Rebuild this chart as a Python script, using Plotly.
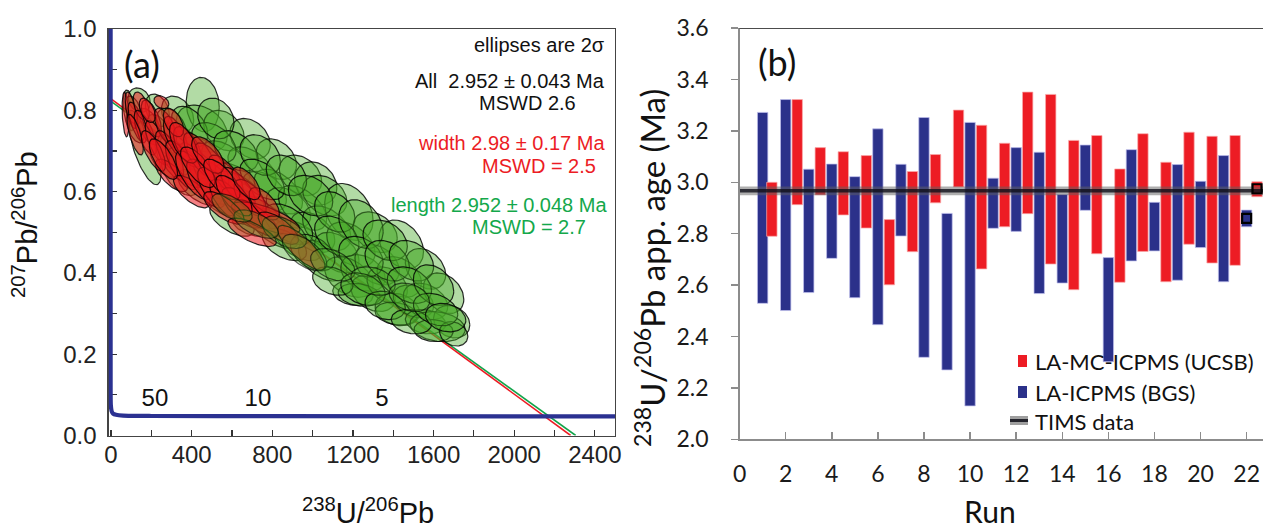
import numpy as np
import plotly.graph_objects as go

W, H = 1263, 530
def px(x): return x / W
def py(y): return 1 - y / H

FA = "Liberation Sans, Arial, sans-serif"
FB = "Lato, Carlito, Calibri, sans-serif"

# ---------------- Panel (a) data ----------------
# Green ellipses ("length" analyses): centre x, centre y, half-extent x, half-extent y, correlation
green_cx = [90, 140, 170, 120, 230, 250, 260, 330, 350, 340,
            455, 450, 460, 440, 400, 560, 570, 550, 620, 690, 700, 680, 700, 760,
            820, 830, 810, 880, 940, 1015, 950, 930, 1000, 1060, 1070, 1050, 1120,
            1180, 1190, 1180, 1200, 1250, 1310, 1320, 1300, 1231, 1370,
            1440, 1430, 1420, 1414, 1500, 1560, 1560, 1560, 1650, 1690, 1620, 1600, 1700,
            110, 190, 300, 310, 390, 380, 510, 500, 520, 620, 640, 600, 740, 750, 740,
            870, 880, 860, 990, 1000, 1110, 1120, 1100, 1240, 1240, 1250, 1360, 1370, 1360,
            1490, 1480, 1490, 1600, 1610, 1660]
green_cy = [0.800, 0.825, 0.700, 0.760, 0.800, 0.740, 0.680, 0.790, 0.720, 0.640,
            0.814, 0.755, 0.680, 0.610, 0.700, 0.750, 0.670, 0.585, 0.620, 0.730, 0.655, 0.560, 0.520, 0.600,
            0.680, 0.600, 0.510, 0.560, 0.640, 0.620, 0.560, 0.480, 0.500, 0.590, 0.510, 0.430, 0.450,
            0.550, 0.470, 0.390, 0.350, 0.400, 0.500, 0.420, 0.350, 0.346, 0.370,
            0.470, 0.390, 0.310, 0.300, 0.330, 0.410, 0.330, 0.280, 0.350, 0.280, 0.268, 0.258, 0.250,
            0.800, 0.760, 0.760, 0.690, 0.760, 0.660, 0.720, 0.630, 0.780, 0.700, 0.600, 0.530, 0.690, 0.630, 0.540,
            0.640, 0.520, 0.470, 0.590, 0.450, 0.550, 0.490, 0.380, 0.520, 0.440, 0.360, 0.480, 0.430, 0.320,
            0.430, 0.370, 0.280, 0.370, 0.310, 0.290]
green_sx = [30, 55, 78, 45, 60, 70, 70, 80, 90, 90,
            82, 127, 110, 110, 100, 100, 120, 120, 110, 100, 120, 120, 100, 110,
            100, 120, 120, 110, 105, 105, 120, 120, 110, 110, 120, 120, 110,
            120, 120, 120, 100, 110, 110, 110, 110, 104, 100,
            110, 110, 110, 104, 100, 100, 110, 100, 100, 90, 137, 97, 70,
            40, 60, 75, 80, 90, 100, 110, 110, 90, 110, 120, 110, 100, 110, 120,
            100, 120, 110, 110, 110, 100, 110, 100, 110, 110, 110, 110, 110, 100,
            110, 110, 100, 100, 110, 100]
green_sy = [0.050, 0.030, 0.083, 0.040, 0.040, 0.050, 0.045, 0.045, 0.050, 0.050,
            0.067, 0.058, 0.055, 0.045, 0.050, 0.050, 0.055, 0.050, 0.050, 0.050, 0.055, 0.050, 0.030, 0.050,
            0.050, 0.055, 0.050, 0.050, 0.050, 0.053, 0.055, 0.050, 0.050, 0.050, 0.055, 0.050, 0.050,
            0.070, 0.055, 0.050, 0.030, 0.045, 0.050, 0.050, 0.045, 0.028, 0.045,
            0.060, 0.050, 0.040, 0.028, 0.040, 0.050, 0.045, 0.030, 0.050, 0.040, 0.037, 0.027, 0.030,
            0.035, 0.045, 0.045, 0.050, 0.050, 0.050, 0.050, 0.050, 0.050, 0.050, 0.050, 0.040, 0.050, 0.050, 0.050,
            0.050, 0.050, 0.040, 0.050, 0.045, 0.050, 0.050, 0.035, 0.060, 0.050, 0.040, 0.050, 0.050, 0.035,
            0.050, 0.045, 0.030, 0.050, 0.040, 0.035]
green_rho = [-0.4, -0.2, -0.7, -0.5, -0.3, -0.6, -0.6, -0.3, -0.5, -0.6,
             -0.1, -0.3, -0.5, -0.6, -0.5, -0.3, -0.5, -0.6, -0.5, -0.3, -0.5, -0.6, -0.4, -0.4,
             -0.3, -0.5, -0.6, -0.4, -0.3, -0.2, -0.5, -0.5, -0.4, -0.3, -0.4, -0.5, -0.4,
             -0.3, -0.4, -0.4, -0.2, -0.3, -0.3, -0.3, -0.3, -0.2, -0.3,
             -0.3, -0.3, -0.2, -0.2, -0.3, -0.3, -0.3, -0.2, -0.3, -0.2, -0.2, -0.1, -0.2,
             -0.4, -0.5, -0.4, -0.6, -0.4, -0.6, -0.4, -0.6, -0.2, -0.4, -0.6, -0.6, -0.3, -0.5, -0.6,
             -0.3, -0.5, -0.5, -0.3, -0.4, -0.3, -0.4, -0.3, -0.3, -0.3, -0.3, -0.3, -0.3, -0.2,
             -0.3, -0.3, -0.2, -0.3, -0.3, -0.2]

# Red ellipses ("width" analyses)
red_cx = [72, 100, 130, 150, 170, 200, 250, 230, 270, 290, 320, 300, 350, 380, 400, 410,
          440, 470, 500, 530, 570, 590, 630, 650, 690, 720, 767, 760, 830, 944,
          120, 180, 210, 260, 310, 360, 430, 480, 550, 610, 560, 670, 700]
red_cy = [0.790, 0.800, 0.770, 0.810, 0.745, 0.780, 0.820, 0.720, 0.760, 0.690, 0.735, 0.640, 0.665, 0.710,
          0.600, 0.640, 0.690, 0.620, 0.665, 0.600, 0.640, 0.575, 0.610, 0.560, 0.585, 0.535, 0.535, 0.570,
          0.510, 0.462,
          0.740, 0.800, 0.700, 0.680, 0.770, 0.720, 0.660, 0.690, 0.630, 0.590, 0.560, 0.620, 0.500]
red_sx = [17, 30, 45, 40, 55, 50, 37, 60, 55, 70, 60, 80, 80, 70, 90, 90,
          80, 95, 85, 100, 85, 100, 85, 100, 80, 110, 170, 75, 100, 117,
          40, 40, 60, 70, 50, 70, 85, 80, 90, 90, 100, 70, 120]
red_sy = [0.055, 0.045, 0.050, 0.035, 0.055, 0.045, 0.016, 0.055, 0.045, 0.060, 0.050, 0.040, 0.060, 0.050,
          0.040, 0.060, 0.055, 0.060, 0.055, 0.060, 0.050, 0.055, 0.050, 0.050, 0.045, 0.045, 0.040, 0.040,
          0.040, 0.055,
          0.050, 0.030, 0.050, 0.050, 0.035, 0.050, 0.050, 0.045, 0.050, 0.050, 0.040, 0.040, 0.035]
red_rho = [-0.3, -0.6, -0.7, -0.5, -0.7, -0.6, -0.3, -0.7, -0.6, -0.7, -0.6, -0.7, -0.7, -0.6,
           -0.7, -0.7, -0.7, -0.7, -0.7, -0.7, -0.7, -0.7, -0.7, -0.7, -0.6, -0.75, -0.7, -0.6,
           -0.7, -0.8,
           -0.7, -0.5, -0.7, -0.7, -0.5, -0.6, -0.7, -0.6, -0.7, -0.7, -0.7, -0.6, -0.7]

# Green ellipses lying over the red ones
green2_cx = [860, 960, 720, 600, 1100, 1300, 1480]
green2_cy = [0.500, 0.450, 0.520, 0.560, 0.420, 0.380, 0.340]
green2_sx = [110, 110, 110, 100, 110, 110, 100]
green2_sy = [0.040, 0.045, 0.035, 0.035, 0.040, 0.035, 0.035]
green2_rho = [-0.5, -0.6, -0.6, -0.6, -0.4, -0.3, -0.3]

# Regression (discordia) lines
red_line_x = [0, 2280]
red_line_y = [0.828, 0.0]
green_line_x = [0, 2305]
green_line_y = [0.822, 0.0]

# Concordia curve (Tera-Wasserburg)
conc_x = [-2, -2, -1, 3, 10, 25, 60, 200, 800, 2500]
conc_y = [1.0, 0.12, 0.075, 0.060, 0.054, 0.051, 0.049, 0.048, 0.0475, 0.047]
age_label_x = [218, 729, 1344]
age_label_y = [0.087, 0.087, 0.087]
age_labels = ["50", "10", "5"]

# ---------------- Panel (b) data ----------------
bgs_x = [1, 2, 3, 4, 5, 6, 7, 8, 9, 10, 11, 12, 13, 14, 15, 16, 17, 18, 19, 20, 21, 22]
bgs_top = [3.272, 3.322, 3.051, 3.071, 3.022, 3.208, 3.070, 3.252, 2.879, 3.233, 3.016,
           3.135, 3.117, 2.953, 3.145, 2.707, 3.127, 2.922, 3.069, 3.004, 3.104, 2.892]
bgs_bot = [2.529, 2.501, 2.571, 2.704, 2.551, 2.446, 2.791, 2.319, 2.270, 2.130, 2.821,
           2.809, 2.567, 2.608, 2.891, 2.302, 2.694, 2.733, 2.619, 2.746, 2.613, 2.827]
ucsb_x = [1.4, 2.5, 3.5, 4.5, 5.5, 6.5, 7.5, 8.5, 9.5, 10.5, 11.5, 12.5, 13.5, 14.5,
          15.5, 16.5, 17.5, 18.5, 19.5, 20.5, 21.5, 22.45]
ucsb_top = [3.000, 3.322, 3.135, 3.119, 3.104, 2.855, 3.042, 3.108, 3.281, 3.222, 3.152,
            3.351, 3.342, 3.163, 3.182, 3.052, 3.189, 3.078, 3.195, 3.179, 3.182, 3.002]
ucsb_bot = [2.790, 2.913, 2.951, 2.873, 2.822, 2.601, 2.730, 2.920, 2.982, 2.663, 2.827,
            2.878, 2.682, 2.582, 2.722, 2.611, 2.731, 2.613, 2.759, 2.686, 2.677, 2.944]
mean_x = [22, 22.45]
mean_y = [2.860, 2.975]
tims_age = 2.967
tims_lo = 2.950
tims_hi = 2.984
run_range = [0, 22.71]

# ---------------- Figure ----------------
fig = go.Figure()

def ellipse(cx, cy, sx, sy, rho, n=80):
    t = np.linspace(0, 2 * np.pi, n)
    x = cx + sx * np.cos(t)
    y = cy + sy * (rho * np.cos(t) + np.sqrt(1 - rho ** 2) * np.sin(t))
    return x, y

fig.add_trace(go.Scatter(x=green_line_x, y=green_line_y, mode="lines",
                         line=dict(color="#12a34a", width=1.6), xaxis="x", yaxis="y"))
fig.add_trace(go.Scatter(x=red_line_x, y=red_line_y, mode="lines",
                         line=dict(color="#ec1c24", width=1.6), xaxis="x", yaxis="y"))

GFILL = "rgba(72,170,40,0.42)"
RFILL = "rgba(236,24,30,0.55)"
OUT = "rgba(0,0,0,0.82)"

def add_ellipses(cxs, cys, sxs, sys_, rhos, fill, line):
    for cx, cy, sx, sy, r in zip(cxs, cys, sxs, sys_, rhos):
        x, y = ellipse(cx, cy, sx, sy, r)
        fig.add_trace(go.Scatter(x=x, y=y, mode="lines", fill="toself", fillcolor=fill,
                                 line=dict(color=line, width=1.2), xaxis="x", yaxis="y"))

add_ellipses(green_cx, green_cy, green_sx, green_sy, green_rho, GFILL, OUT)
add_ellipses(red_cx, red_cy, red_sx, red_sy, red_rho, RFILL, OUT)
add_ellipses(green2_cx, green2_cy, green2_sx, green2_sy, green2_rho, "rgba(72,170,40,0.30)", "rgba(0,0,0,0.6)")

fig.add_trace(go.Scatter(x=conc_x, y=conc_y, mode="lines",
                         line=dict(color="#2b3191", width=4.2, shape="spline", smoothing=0.6),
                         xaxis="x", yaxis="y"))
fig.add_trace(go.Scatter(x=age_label_x, y=age_label_y, mode="text", text=age_labels,
                         textfont=dict(family=FA, size=24, color="#111"), xaxis="x", yaxis="y"))

# ---- panel (b) ----
fig.add_trace(go.Bar(x=bgs_x, y=[t - b for t, b in zip(bgs_top, bgs_bot)], base=bgs_bot,
                     width=0.45, marker=dict(color="#2b318a", line=dict(color="rgba(190,190,235,0.9)", width=0.8)),
                     xaxis="x2", yaxis="y2"))
fig.add_trace(go.Bar(x=ucsb_x, y=[t - b for t, b in zip(ucsb_top, ucsb_bot)], base=ucsb_bot,
                     width=0.45, marker=dict(color="#ed1c24", line=dict(color="rgba(250,170,170,0.9)", width=0.8)),
                     xaxis="x2", yaxis="y2"))
fig.add_trace(go.Scatter(x=run_range, y=[tims_lo, tims_lo], mode="lines",
                         line=dict(width=0, color="rgba(0,0,0,0)"), xaxis="x2", yaxis="y2"))
fig.add_trace(go.Scatter(x=run_range, y=[tims_hi, tims_hi], mode="lines", fill="tonexty",
                         fillcolor="rgba(95,95,95,0.5)", line=dict(width=0, color="rgba(0,0,0,0)"),
                         xaxis="x2", yaxis="y2"))
fig.add_trace(go.Scatter(x=run_range, y=[tims_age, tims_age], mode="lines",
                         line=dict(color="rgba(15,15,25,0.8)", width=3.5), xaxis="x2", yaxis="y2"))
fig.add_trace(go.Scatter(x=mean_x, y=mean_y, mode="markers",
                         marker=dict(symbol="square-open", size=9, color="#000", line=dict(width=2.2, color="#000")),
                         xaxis="x2", yaxis="y2", cliponaxis=False))

# ---------------- layout ----------------
annotations = [
    dict(x=px(142), y=py(64), text="(a)", font=dict(family=FB, size=36, color="#111")),
    dict(x=px(777), y=py(62), text="(b)", font=dict(family=FB, size=36, color="#111")),
    dict(x=px(607), y=py(45), xanchor="right", text="ellipses are 2σ",
         font=dict(family=FA, size=20, color="#111")),
    dict(x=px(607), y=py(81), xanchor="right", text="All\u00a0\u00a02.952 ± 0.043 Ma",
         font=dict(family=FA, size=20, color="#111")),
    dict(x=px(578), y=py(103), xanchor="right", text="MSWD 2.6", font=dict(family=FA, size=20, color="#111")),
    dict(x=px(607), y=py(143), xanchor="right", text="width 2.98 ± 0.17 Ma",
         font=dict(family=FA, size=20, color="#ec1c24")),
    dict(x=px(598), y=py(166), xanchor="right", text="MSWD = 2.5", font=dict(family=FA, size=20, color="#ec1c24")),
    dict(x=px(609), y=py(205), xanchor="right", text="length 2.952 ± 0.048 Ma",
         font=dict(family=FA, size=20, color="#14a84b")),
    dict(x=px(588), y=py(227), xanchor="right", text="MSWD = 2.7", font=dict(family=FA, size=20, color="#14a84b")),
    dict(x=px(25), y=py(225), textangle=-90, text="<sup>207</sup>Pb/<sup>206</sup>Pb",
         font=dict(family=FA, size=29, color="#111")),
    dict(x=px(368), y=py(511), text="<sup>238</sup>U/<sup>206</sup>Pb", font=dict(family=FA, size=29, color="#111")),
    dict(x=px(650), y=py(268), textangle=-90, text="<sup>238</sup>U/<sup>206</sup>Pb app. age (Ma)",
         font=dict(family=FB, size=33, color="#111")),
    dict(x=px(990), y=py(511), text="Run", font=dict(family=FB, size=30, color="#111")),
    dict(x=px(1033), y=py(361), xanchor="left", text="LA-MC-ICPMS (UCSB)", font=dict(family=FB, size=22, color="#111")),
    dict(x=px(1033), y=py(392), xanchor="left", text="LA-ICPMS (BGS)", font=dict(family=FB, size=22, color="#111")),
    dict(x=px(1033), y=py(421), xanchor="left", text="TIMS data", font=dict(family=FB, size=22, color="#111")),
]
for a in annotations:
    a.setdefault("xanchor", "center")
    a.setdefault("yanchor", "middle")
    a.update(xref="paper", yref="paper", showarrow=False)

shapes = [
    dict(type="line", xref="x2 domain", yref="y2", x0=0, x1=1, y0=3.6, y1=3.6,
         line=dict(color="#111", width=1.5)),
    dict(type="rect", xref="paper", yref="paper", x0=px(1018), x1=px(1027), y0=py(367), y1=py(355),
         fillcolor="#ed1c24", line=dict(width=0)),
    dict(type="rect", xref="paper", yref="paper", x0=px(1018), x1=px(1027), y0=py(398), y1=py(386),
         fillcolor="#2b318a", line=dict(width=0)),
    dict(type="rect", xref="paper", yref="paper", x0=px(1010), x1=px(1028), y0=py(425), y1=py(416),
         fillcolor="rgba(95,95,95,0.6)", line=dict(width=0)),
    dict(type="line", xref="paper", yref="paper", x0=px(1010), x1=px(1028), y0=py(420.5), y1=py(420.5),
         line=dict(color="rgba(15,15,25,0.85)", width=3)),
]

fig.update_layout(
    width=W, height=H, margin=dict(l=0, r=0, t=0, b=0, autoexpand=False),
    paper_bgcolor="white", plot_bgcolor="white", showlegend=False, barmode="overlay",
    hovermode=False,
    xaxis=dict(domain=[px(108.6), px(615)], range=[-12, 2500], anchor="y", automargin=False,
               tick0=0, dtick=400, ticks="inside", ticklen=6, tickwidth=1.2, tickcolor="#333",
               minor=dict(tick0=0, dtick=200, ticks="inside", ticklen=6, tickwidth=1.2, tickcolor="#333"),
               showline=True, mirror=True, linecolor="#444", linewidth=1.2,
               showgrid=False, zeroline=False, ticklabelstandoff=-3,
               tickfont=dict(family=FA, size=24, color="#222")),
    yaxis=dict(domain=[py(435.5), py(29)], range=[0, 1.0], anchor="x", automargin=False,
               tick0=0, dtick=0.2, tickformat=".1f", ticks="inside", ticklen=8, tickwidth=1.2, tickcolor="#333",
               minor=dict(tick0=0, dtick=0.1, ticks="inside", ticklen=8, tickwidth=1.2, tickcolor="#333"),
               showline=True, mirror=True, linecolor="#444", linewidth=1.2, layer="below traces",
               showgrid=False, zeroline=False, ticklabelstandoff=6,
               tickfont=dict(family=FA, size=24, color="#222")),
    xaxis2=dict(domain=[px(739.6), 1.0], range=run_range, anchor="y2", automargin=False,
                tick0=0, dtick=2, ticks="inside", ticklen=7, tickwidth=1.5,
                tickcolor="#8c8c8c", showline=True, linecolor="#8c8c8c", linewidth=1.5,
                showgrid=False, zeroline=False, ticklabelstandoff=14,
                tickfont=dict(family=FB, size=23, color="#1a1a1a")),
    yaxis2=dict(domain=[py(439.3), py(28.1)], range=[2.0, 3.6], anchor="x2", automargin=False,
                tick0=2.0, dtick=0.2, tickformat=".1f", ticks="outside", ticklen=7, tickwidth=1.5,
                tickcolor="#8c8c8c", showline=True, linecolor="#8c8c8c", linewidth=1.5,
                showgrid=False, zeroline=False, ticklabelstandoff=18,
                tickfont=dict(family=FB, size=23, color="#1a1a1a")),
    annotations=annotations, shapes=shapes,
)

fig.write_html("out.html", config={"displayModeBar": False, "staticPlot": True},
               post_script="document.body.style.margin='0px';")
